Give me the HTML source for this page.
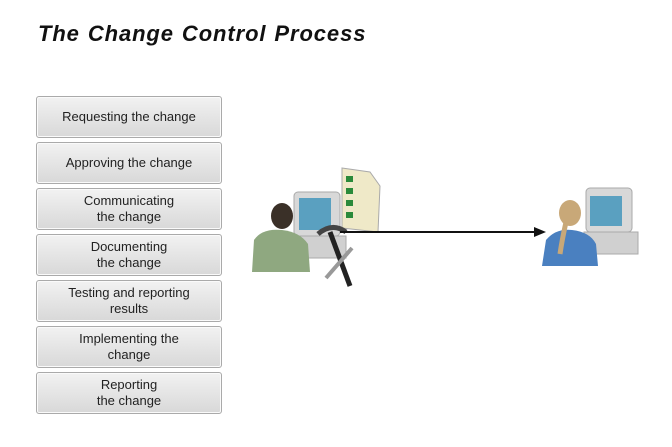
<!DOCTYPE html>
<html><head><style>
body{margin:0;width:672px;height:447px;background:#fff;position:relative;overflow:hidden;font-family:"Liberation Sans",sans-serif}
h1{position:absolute;left:38px;top:21px;margin:0;font-size:22px;font-style:italic;font-weight:bold;color:#111;letter-spacing:0.9px;word-spacing:1px}
.b{position:absolute;left:36px;width:184px;height:40px;border:1px solid #aaa;border-radius:3px;background:linear-gradient(#f2f2f2,#d8d8d8);box-shadow:inset 0 0 0 1px #fafafa;display:flex;align-items:center;justify-content:center;text-align:center;font-size:13px;line-height:16px;color:#222}
</style></head><body>
<h1>The Change Control Process</h1>
<div class="b" style="top:96px">Requesting the change</div>
<div class="b" style="top:142px">Approving the change</div>
<div class="b" style="top:188px">Communicating<br>the change</div>
<div class="b" style="top:234px">Documenting<br>the change</div>
<div class="b" style="top:280px">Testing and reporting<br>results</div>
<div class="b" style="top:326px">Implementing the<br>change</div>
<div class="b" style="top:372px">Reporting<br>the change</div>
<svg width="672" height="447" style="position:absolute;left:0;top:0">
<rect x="294" y="192" width="46" height="44" rx="4" fill="#d8d8d8" stroke="#aaa"/>
<rect x="299" y="198" width="32" height="32" fill="#5aa0c0"/>
<rect x="292" y="236" width="54" height="22" fill="#d0d0d0" stroke="#aaa"/>
<path d="M342 168 L370 172 L380 186 L378 232 L342 228 Z" fill="#efe9c8" stroke="#aaa"/>
<g fill="#2a8a3a"><rect x="346" y="176" width="7" height="6"/><rect x="346" y="188" width="7" height="6"/><rect x="346" y="200" width="7" height="6"/><rect x="346" y="212" width="7" height="6"/></g>
<ellipse cx="282" cy="216" rx="11" ry="13" fill="#3a3028"/>
<path d="M252 272 L254 240 Q262 228 282 230 Q300 232 308 244 L310 272 Z" fill="#8fa880"/>
<line x1="330" y1="232" x2="350" y2="286" stroke="#222" stroke-width="5"/>
<path d="M318 234 Q332 222 346 232" stroke="#444" stroke-width="5" fill="none"/>
<line x1="326" y1="278" x2="352" y2="248" stroke="#999" stroke-width="4"/>
<line x1="340" y1="232" x2="535" y2="232" stroke="#111" stroke-width="2"/>
<polygon points="546,232 534,227 534,237" fill="#111"/>
<rect x="586" y="188" width="46" height="44" rx="4" fill="#d8d8d8" stroke="#aaa"/>
<rect x="590" y="196" width="32" height="30" fill="#5aa0c0"/>
<rect x="584" y="232" width="54" height="22" fill="#d0d0d0" stroke="#aaa"/>
<ellipse cx="570" cy="213" rx="11" ry="13" fill="#c8a878"/>
<path d="M542 266 L546 240 Q556 228 572 230 Q590 232 596 244 L598 266 Z" fill="#4a80c0"/>
<path d="M566 222 Q562 240 560 254" stroke="#c8a878" stroke-width="5" fill="none"/>
</svg>
</body></html>
